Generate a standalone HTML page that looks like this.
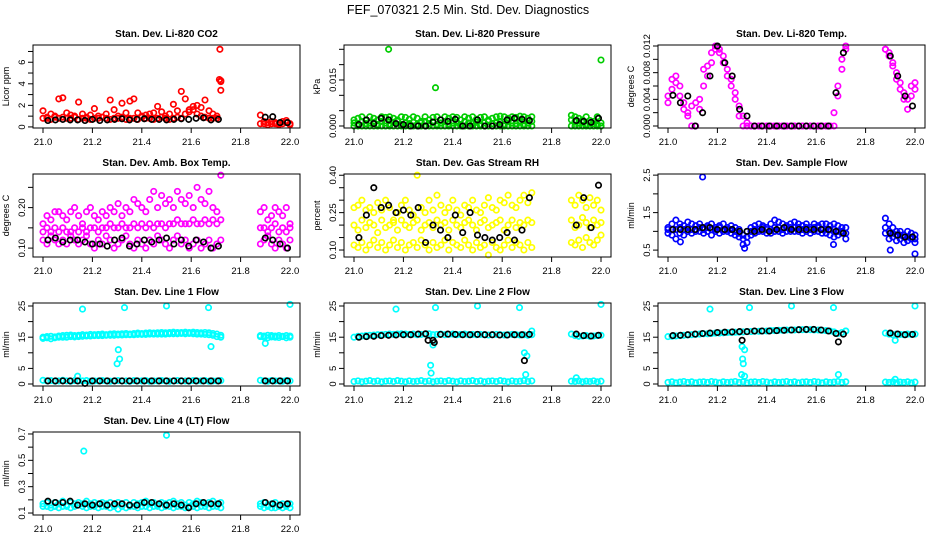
<!DOCTYPE html>
<html><head><meta charset="utf-8"><style>
body{margin:0;background:#fff;}
svg{display:block;font-family:"Liberation Sans",sans-serif;}
</style></head><body>
<svg id="chart" width="936" height="540" viewBox="0 0 936 540">
<text x="468" y="14" text-anchor="middle" font-size="12.5">FEF_070321  2.5 Min. Std. Dev. Diagnostics</text>
</svg>
<script>
const T = [21.00,21.016,21.032,21.048,21.064,21.08,21.096,21.112,21.128,21.144,21.16,21.176,21.192,21.208,21.224,21.24,21.256,21.272,21.288,21.304,21.32,21.336,21.352,21.368,21.384,21.40,21.416,21.432,21.448,21.464,21.48,21.496,21.512,21.528,21.544,21.56,21.576,21.592,21.608,21.624,21.64,21.656,21.672,21.688,21.704,21.72,21.88,21.895,21.91,21.925,21.94,21.955,21.97,21.985,22.0];
const TK = [21.02,21.05,21.08,21.11,21.14,21.17,21.20,21.23,21.26,21.29,21.32,21.35,21.38,21.41,21.44,21.47,21.50,21.53,21.56,21.59,21.62,21.65,21.68,21.71,21.90,21.93,21.96,21.99];
const xTicks = [21.0,21.2,21.4,21.6,21.8,22.0];
const xTickLabels = ["21.0","21.2","21.4","21.6","21.8","22.0"];

// CO2
const co2A = [1.5,0.9,1.2,1.0,2.6,2.7,1.3,1.1,1.0,2.3,1.2,0.8,1.1,1.7,1.0,0.9,1.2,2.5,1.6,1.0,2.2,1.3,2.4,2.6,1.3,1.0,1.1,1.2,1.3,1.9,1.4,1.0,1.2,2.1,1.5,3.3,2.6,1.6,1.9,2.0,1.8,2.5,1.5,1.2,1.0,4.3,1.1,0.5,0.4,0.5,0.4,0.3,0.5,0.6,0.3];
const co2B = [0.8,0.8,0.7,0.9,0.8,0.9,0.8,0.8,0.9,0.7,0.8,0.9,0.7,0.8,0.8,0.9,0.8,0.7,0.8,0.8,0.9,0.7,0.8,0.8,0.7,0.9,0.8,0.8,0.7,0.8,0.9,0.8,0.7,0.8,0.9,0.8,1.2,1.4,1.6,1.2,1.0,0.9,0.8,0.8,0.8,3.4,0.3,0.3,0.2,0.3,0.3,0.2,0.3,0.4,0.2];
const co2OutT = [21.716,21.714,21.72];
const co2OutV = [7.2,4.4,4.2];
const co2K = [0.6,0.65,0.7,0.65,0.65,0.6,0.7,0.6,0.65,0.7,0.75,0.65,0.7,0.75,0.7,0.7,0.65,0.7,0.75,0.7,0.8,0.85,0.65,0.7,0.9,0.95,0.4,0.4];

// Pressure
const prA = [0.002,0.0025,0.003,0.0018,0.003,0.0025,0.002,0.003,0.0028,0.003,0.0025,0.002,0.003,0.0028,0.0022,0.003,0.0025,0.0015,0.003,0.002,0.0028,0.003,0.002,0.003,0.0025,0.003,0.0028,0.002,0.003,0.0025,0.003,0.0022,0.0028,0.003,0.002,0.0025,0.003,0.0032,0.003,0.0025,0.003,0.0028,0.0032,0.003,0.0025,0.003,0.0035,0.003,0.0025,0.002,0.003,0.0018,0.0015,0.003,0.001];
const prB = [0.001,0.0005,0.0015,0.0008,0.001,0.0012,0.0005,0.0015,0.001,0.0007,0.0012,0.0015,0.0005,0.001,0.0008,0.0012,0.0005,0.001,0.0015,0.0008,0.0012,0.0005,0.001,0.0015,0.0007,0.001,0.0012,0.0005,0.0015,0.001,0.0008,0.0012,0.0005,0.001,0.0015,0.0008,0.001,0.0012,0.0005,0.0015,0.001,0.0008,0.0012,0.0005,0.001,0.0015,0.002,0.0015,0.001,0.0012,0.0005,0.001,0.0008,0.0005,0];
const prC = [0,0,0,0,0,0,0,0,0,0,0,0,0,0,0,0,0,0,0,0,0,0,0,0,0,0,0,0,0,0,0,0,0,0,0,0,0,0,0,0,0,0,0,0,0,0,0,0,0,0,0,0,0,0,0];
const prOutT = [21.14,21.33,22.0];
const prOutV = [0.025,0.0125,0.0215];
const prK = [0.0005,0.002,0.0008,0.0025,0.002,0.0008,0.0005,0,0,0,0.0013,0.002,0.0015,0.0022,0,0,0.002,0,0,0.0005,0.002,0.0025,0.0022,0.0018,0.0018,0.0015,0.0012,0.0025];

// Li-820 temp
const tmA = [0.0045,0.007,0.0075,0.006,0.0035,0.0015,0,0,0.004,0.0085,0.009,0.011,0.0115,0.011,0.0095,0.0075,0.006,0.004,0.0015,0,0,0,0,0,0,0,0,0,0,0,0,0,0,0,0,0,0,0,0,0,0,0,0.002,0.006,0.01,0.0115,0.0115,0.011,0.009,0.008,0.0065,0.005,0.004,0.006,0.0055];
const tmB = [0.0035,0.0055,0.0065,0.0045,0.0025,0.002,0.003,0.0035,0.0025,0.006,0.0075,0.0095,0.012,0.0115,0.0105,0.0085,0.007,0.005,0.003,0.0015,0.0005,0,0,0,0,0,0,0,0,0,0,0,0,0,0,0,0,0,0,0,0,0,0,0.0045,0.0085,0.012,0.0115,0.0105,0.0095,0.007,0.0055,0.004,0.0025,0.0045,0.0065];
const tmK = [0.0046,0.0035,0.0045,0,0.002,0.0075,0.012,0.0095,0.0075,0.0025,0.0015,0,0,0,0,0,0,0,0,0,0,0,0.005,0.011,0.0105,0.0075,0.0045,0.003];

// Amb box temp
const abA = [0.16,0.18,0.17,0.19,0.19,0.18,0.17,0.19,0.2,0.18,0.16,0.19,0.2,0.18,0.17,0.19,0.18,0.2,0.19,0.21,0.18,0.2,0.19,0.22,0.21,0.2,0.19,0.22,0.24,0.2,0.23,0.21,0.22,0.2,0.24,0.22,0.21,0.23,0.2,0.25,0.22,0.21,0.24,0.2,0.19,0.28,0.19,0.2,0.17,0.18,0.2,0.19,0.18,0.2,0.16];
const abB = [0.12,0.11,0.13,0.12,0.11,0.12,0.11,0.13,0.12,0.11,0.12,0.13,0.11,0.1,0.12,0.11,0.13,0.12,0.1,0.11,0.12,0.13,0.11,0.1,0.12,0.11,0.1,0.12,0.11,0.13,0.12,0.11,0.1,0.12,0.13,0.11,0.12,0.1,0.11,0.12,0.1,0.11,0.12,0.1,0.11,0.12,0.11,0.12,0.13,0.11,0.1,0.12,0.11,0.1,0.12];
const abC = [0.14,0.15,0.14,0.15,0.14,0.15,0.14,0.14,0.15,0.14,0.15,0.14,0.15,0.15,0.14,0.15,0.15,0.16,0.15,0.15,0.16,0.15,0.15,0.16,0.15,0.16,0.15,0.16,0.15,0.16,0.16,0.15,0.16,0.16,0.17,0.16,0.16,0.16,0.17,0.16,0.16,0.17,0.16,0.17,0.16,0.17,0.15,0.15,0.14,0.15,0.16,0.14,0.15,0.14,0.15];
const abK = [0.12,0.125,0.115,0.12,0.12,0.115,0.11,0.11,0.105,0.12,0.125,0.105,0.11,0.12,0.115,0.12,0.125,0.11,0.12,0.105,0.12,0.115,0.1,0.105,0.125,0.12,0.11,0.1];

// RH
const rhA = [0.27,0.28,0.3,0.26,0.27,0.25,0.29,0.26,0.3,0.27,0.22,0.25,0.28,0.3,0.26,0.24,0.4,0.27,0.25,0.3,0.26,0.32,0.28,0.25,0.27,0.3,0.26,0.24,0.28,0.27,0.3,0.26,0.25,0.28,0.31,0.27,0.26,0.3,0.29,0.32,0.28,0.27,0.3,0.32,0.29,0.33,0.3,0.28,0.32,0.3,0.27,0.31,0.28,0.3,0.26];
const rhB = [0.2,0.18,0.22,0.19,0.21,0.2,0.17,0.22,0.19,0.2,0.21,0.18,0.22,0.2,0.19,0.21,0.22,0.18,0.2,0.21,0.19,0.22,0.2,0.21,0.18,0.22,0.2,0.19,0.21,0.22,0.2,0.18,0.21,0.22,0.19,0.2,0.21,0.22,0.18,0.2,0.22,0.19,0.21,0.2,0.22,0.21,0.22,0.19,0.2,0.23,0.21,0.19,0.22,0.2,0.21];
const rhC = [0.12,0.11,0.13,0.1,0.12,0.14,0.11,0.13,0.1,0.12,0.14,0.11,0.13,0.1,0.12,0.13,0.11,0.14,0.12,0.1,0.13,0.11,0.12,0.14,0.1,0.13,0.12,0.11,0.14,0.12,0.1,0.13,0.11,0.12,0.08,0.13,0.11,0.1,0.12,0.14,0.11,0.13,0.12,0.1,0.13,0.11,0.13,0.12,0.14,0.11,0.15,0.13,0.12,0.14,0.16];
const rhK = [0.15,0.24,0.35,0.27,0.28,0.25,0.26,0.24,0.27,0.13,0.2,0.18,0.15,0.24,0.17,0.25,0.16,0.15,0.14,0.15,0.17,0.14,0.18,0.31,0.2,0.31,0.19,0.36];

// Sample flow
const sfA = [1.1,1.2,1.3,1.2,1.15,1.25,1.2,1.15,1.2,1.1,1.15,1.2,1.1,1.15,1.2,1.1,1.15,1.1,1.05,0.9,1.0,1.1,1.15,1.2,1.15,1.1,1.2,1.3,1.25,1.2,1.15,1.2,1.25,1.2,1.15,1.2,1.1,1.2,1.15,1.2,1.2,1.15,1.2,1.15,1.1,1.1,1.35,1.2,1.1,1.0,1.0,0.9,1.0,0.95,0.9];
const sfB = [0.95,0.9,0.8,0.95,0.9,1.0,0.95,1.0,1.0,0.95,1.0,0.9,1.0,0.95,1.0,1.0,0.95,0.9,0.85,0.65,0.7,0.9,0.95,1.0,1.0,0.95,0.95,1.0,1.0,0.95,1.0,1.0,1.0,1.0,0.95,1.0,0.95,1.0,1.0,0.95,0.95,0.9,0.85,0.9,0.95,0.8,0.95,0.8,0.85,0.75,0.8,0.7,0.75,0.8,0.7];
const sfC = [1.05,1.05,1.05,1.1,1.05,1.1,1.05,1.05,1.1,1.05,1.1,1.05,1.05,1.1,1.05,1.05,1.05,1.0,0.95,0.8,0.85,1.0,1.05,1.05,1.1,1.05,1.05,1.1,1.1,1.05,1.1,1.1,1.1,1.1,1.05,1.1,1.05,1.1,1.1,1.05,1.05,1.05,1.05,1.0,1.0,0.95,1.1,1.0,0.95,0.9,0.9,0.85,0.85,0.85,0.8];
const sfOutT = [21.14,22.0,21.9,21.05,21.31,21.67];
const sfOutV = [2.45,0.4,0.5,0.72,0.55,0.65];
const sfK = [1.05,1.05,1.05,1.05,1.1,1.1,1.05,1.05,1.05,1.0,1.0,1.0,1.05,1.0,1.05,1.1,1.05,1.05,1.05,1.05,1.05,1.05,1.0,0.95,0.95,0.9,0.85,0.85];

// Line 1
const l1A = [15,15.2,15.3,15.1,15.4,15.5,15.6,15.7,15.5,15.6,15.8,15.7,15.9,15.8,15.9,16,15.8,16,16.1,16,16.1,16.2,16,16.2,16.3,16.2,16.3,16.4,16.3,16.4,16.5,16.4,16.5,16.6,16.5,16.5,16.6,16.5,16.6,16.5,16.4,16.5,16.4,16.2,16.0,15.6,15.5,15.4,15.6,15.5,15.4,15.5,15.3,15.5,15.4];
const l1B = [14.6,14.8,14.5,14.8,15,15,15,15.2,15.1,15.2,15.3,15.4,15.4,15.5,15.5,15.5,15.6,15.6,15.6,15.7,15.7,15.8,15.8,15.8,15.9,15.9,15.9,16,16,16,16,16,16.1,16.1,16.1,16.2,16.1,16.2,16.1,16,16,15.9,15.8,15.6,15.2,15,15.2,15,14.8,15.1,15,14.9,15.2,14.8,15];
const l1C = [1.2,1.0,1.1,0.9,1.0,1.2,1.0,0.9,1.1,1.0,1.0,1.1,0.9,1.0,1.0,1.1,1.0,0.9,1.0,1.1,1.0,1.0,0.9,1.1,1.0,1.0,1.1,0.9,1.0,1.0,1.1,1.0,0.9,1.0,1.1,1.0,1.0,0.9,1.1,1.0,1.0,1.1,0.9,1.0,1.0,1.1,1.2,1.0,0.9,1.1,1.0,1.0,0.9,1.1,1.0];
const l1OutT = [21.16,21.33,21.5,21.67,22.0,21.3,21.31,21.305,21.68,21.9,21.14];
const l1OutV = [24,24.5,25,24.5,25.5,6.5,8,11,12,13,2.5];
const l1K = [1,1,1,1,1,0.2,1,1,1,1,1,1,1,1,1,1,1,1,1,1,1,1,1,1,1,1,1,1];

// Line 2
const l2A = [0.8,1.0,0.7,0.9,1.1,0.8,1.0,0.7,0.9,1.0,0.8,1.1,0.9,0.7,1.0,0.8,0.9,1.1,0.8,1.0,0.7,0.9,1.0,0.8,1.1,0.9,0.7,1.0,0.8,0.9,1.1,0.8,1.0,0.7,0.9,1.0,0.8,1.1,0.9,0.7,1.0,0.8,0.9,1.1,0.8,1.0,0.9,0.8,1.0,0.7,0.9,0.8,1.0,0.7,0.9];
const l2B = [15,15.3,15.4,15.5,15.6,15.7,15.8,15.8,15.9,16,15.9,16,16.1,16,15.9,16,15.8,15.9,16,16.1,15.8,15.9,16,15.8,15.9,16,15.8,15.9,16,15.8,15.9,15.8,15.9,15.8,15.7,15.8,15.9,15.8,15.7,15.8,15.9,15.8,15.7,15.8,15.6,15.8,16,15.5,15.3,15.4,15.5,15.3,15.4,15.5,15.6];
const l2OutT = [21.17,21.33,21.5,21.67,22.0,21.31,21.312,21.32,21.69,21.7,21.695,21.72,21.9];
const l2OutV = [24,24.5,25,24.5,25.5,6,3.5,12.5,10,9,3,17,2];
const l2K = [15,15.2,15.3,15.5,15.6,15.7,15.8,15.8,16,16.1,14,15.9,16,15.9,15.8,15.8,15.9,15.8,15.8,15.7,15.7,15.8,15.8,15.9,16,15.5,15.4,15.6];
const l2KOutT = [21.30,21.325,21.69];
const l2KOutV = [14,13.3,7.5];

// Line 3
const l3A = [0.5,0.7,0.4,0.6,0.8,0.5,0.7,0.4,0.6,0.7,0.5,0.8,0.6,0.4,0.7,0.5,0.6,0.8,0.5,0.7,0.4,0.6,0.7,0.5,0.8,0.6,0.4,0.7,0.5,0.6,0.8,0.5,0.7,0.4,0.6,0.7,0.5,0.8,0.6,0.4,0.7,0.5,0.6,0.8,0.5,0.7,0.6,0.5,0.7,0.4,0.6,0.5,0.7,0.4,0.6];
const l3B = [15.2,15.3,15.4,15.5,15.6,15.7,15.8,15.9,16,16.1,16.1,16.2,16.3,16.3,16.4,16.5,16.5,16.6,16.6,16.7,16.8,16.8,16.9,16.9,17,17,17.1,17.1,17.2,17.2,17.3,17.3,17.3,17.4,17.4,17.4,17.4,17.3,17.3,17.2,17.1,17,16.7,16.2,16.5,17,16.3,16,15.8,16,15.9,15.8,16,15.9,16];
const l3OutT = [21.17,21.33,21.5,21.67,22.0,21.30,21.31,21.302,21.305,21.298,21.31,21.69,21.92,21.72,21.92];
const l3OutV = [24,24.5,25,24.5,25,12,11,8,6.5,3,2.5,3,14,17,1.5];
const l3K = [15.5,15.6,15.8,16,16.2,16.3,16.5,16.6,16.7,16.8,16.8,17,17,17,17.1,17.2,17.3,17.4,17.5,17.5,17.3,17,16.2,16,16.3,16,15.8,15.9];
const l3KOutT = [21.30,21.69];
const l3KOutV = [14,13.5];

// Line 4
const l4A = [0.17,0.18,0.16,0.18,0.17,0.19,0.16,0.18,0.17,0.18,0.17,0.19,0.17,0.18,0.17,0.18,0.17,0.18,0.16,0.18,0.17,0.18,0.16,0.18,0.17,0.18,0.19,0.17,0.18,0.16,0.18,0.17,0.18,0.19,0.17,0.18,0.16,0.18,0.17,0.19,0.18,0.17,0.18,0.19,0.17,0.18,0.17,0.18,0.16,0.17,0.18,0.16,0.17,0.16,0.17];
const l4B = [0.15,0.15,0.14,0.15,0.14,0.15,0.15,0.14,0.15,0.16,0.15,0.14,0.15,0.15,0.14,0.15,0.15,0.14,0.15,0.13,0.15,0.14,0.15,0.15,0.14,0.15,0.15,0.14,0.15,0.15,0.14,0.15,0.15,0.14,0.15,0.15,0.14,0.15,0.15,0.14,0.15,0.15,0.14,0.15,0.15,0.14,0.15,0.14,0.15,0.14,0.14,0.15,0.14,0.15,0.14];
const l4OutT = [21.165,21.5];
const l4OutV = [0.57,0.69];
const l4K = [0.19,0.18,0.18,0.19,0.16,0.17,0.16,0.17,0.16,0.17,0.17,0.16,0.16,0.18,0.18,0.17,0.16,0.17,0.16,0.14,0.17,0.18,0.17,0.17,0.18,0.17,0.16,0.17];

const svg = document.getElementById('chart');
const NS = 'http://www.w3.org/2000/svg';
function mk(tag, attrs, parent) {
  const e = document.createElementNS(NS, tag);
  for (const k in attrs) e.setAttribute(k, attrs[k]);
  (parent || svg).appendChild(e);
  return e;
}
const colL = [33, 344, 658];
const rowB = [128, 257, 386, 515];
const BW = 267, BH = 83;

const panels = [
 {name:'co2', title:'Stan. Dev. Li-820 CO2', ylab:'Licor ppm', c:0, r:0, ymin:-0.1, ymax:7.6, ticks:[0,1,2,3,4,5,6,7], labels:[0,2,4,6], lfmt:v=>String(v), col:'#ff0000',
  series:[[T,co2A],[T,co2B],[co2OutT,co2OutV]], black:[[TK,co2K]]},
 {name:'pressure', title:'Stan. Dev. Li-820 Pressure', ylab:'kPa', c:1, r:0, ymin:-0.00065, ymax:0.0264, ticks:[0,0.005,0.01,0.015,0.02,0.025], labels:[0,0.015], lfmt:v=>v.toFixed(3), col:'#00cd00',
  series:[[T,prC],[T,prB],[T,prA],[prOutT,prOutV]], black:[[TK,prK]]},
 {name:'li820-temp', title:'Stan. Dev. Li-820 Temp.', ylab:'degrees C', c:2, r:0, ymin:-0.0003, ymax:0.01215, ticks:[0,0.002,0.004,0.006,0.008,0.01,0.012], labels:[0,0.004,0.008,0.012], lfmt:v=>v.toFixed(3), col:'#ff00ff',
  series:[[T,tmA],[T,tmB]], black:[[TK,tmK]]},
 {name:'amb-box-temp', title:'Stan. Dev. Amb. Box Temp.', ylab:'degrees C', c:0, r:1, ymin:0.078, ymax:0.283, ticks:[0.1,0.15,0.2,0.25], labels:[0.1,0.2], lfmt:v=>v.toFixed(2), col:'#ff00ff',
  series:[[T,abB],[T,abC],[T,abA]], black:[[TK,abK]]},
 {name:'gas-stream-rh', title:'Stan. Dev. Gas Stream RH', ylab:'percent', c:1, r:1, ymin:0.072, ymax:0.405, ticks:[0.1,0.15,0.2,0.25,0.3,0.35,0.4], labels:[0.1,0.25,0.4], lfmt:v=>v.toFixed(2), col:'#ffff00',
  series:[[T,rhC],[T,rhB],[T,rhA]], black:[[TK,rhK]]},
 {name:'sample-flow', title:'Stan. Dev. Sample Flow', ylab:'ml/min', c:2, r:1, ymin:0.316, ymax:2.53, ticks:[0.5,1,1.5,2,2.5], labels:[0.5,1.5,2.5], lfmt:v=>v.toFixed(1), col:'#0000ff',
  series:[[T,sfB],[T,sfA],[T,sfC],[sfOutT,sfOutV]], black:[[TK,sfK]]},
 {name:'line1-flow', title:'Stan. Dev. Line 1 Flow', ylab:'ml/min', c:0, r:2, ymin:-0.64, ymax:25.96, ticks:[0,5,10,15,20,25], labels:[0,5,15,25], lfmt:v=>String(v), col:'#00ffff',
  series:[[T,l1B],[T,l1A],[T,l1C],[l1OutT,l1OutV]], black:[[TK,l1K]]},
 {name:'line2-flow', title:'Stan. Dev. Line 2 Flow', ylab:'ml/min', c:1, r:2, ymin:-0.64, ymax:25.96, ticks:[0,5,10,15,20,25], labels:[0,5,15,25], lfmt:v=>String(v), col:'#00ffff',
  series:[[T,l2A],[T,l2B],[l2OutT,l2OutV]], black:[[TK,l2K],[l2KOutT,l2KOutV]]},
 {name:'line3-flow', title:'Stan. Dev. Line 3 Flow', ylab:'ml/min', c:2, r:2, ymin:-0.64, ymax:25.96, ticks:[0,5,10,15,20,25], labels:[0,5,15,25], lfmt:v=>String(v), col:'#00ffff',
  series:[[T,l3A],[T,l3B],[l3OutT,l3OutV]], black:[[TK,l3K],[l3KOutT,l3KOutV]]},
 {name:'line4-flow', title:'Stan. Dev. Line 4 (LT) Flow', ylab:'ml/min', c:0, r:3, ymin:0.085, ymax:0.715, ticks:[0.1,0.2,0.3,0.4,0.5,0.6,0.7], labels:[0.1,0.3,0.5,0.7], lfmt:v=>v.toFixed(1), col:'#00ffff',
  series:[[T,l4A],[T,l4B],[l4OutT,l4OutV]], black:[[TK,l4K]]}
];

panels.forEach(p => {
  const L = colL[p.c], B = rowB[p.r], Tp = B - BH;
  const xs = v => L + 10 + (v - 21) * 247;
  const ys = v => B - (v - p.ymin) / (p.ymax - p.ymin) * BH;
  const g = mk('g', {});
  
  
  const t = mk('text', {x: L + BW/2, y: Tp - 8, 'text-anchor':'middle', 'font-size':'10', 'font-weight':'bold'}, g);
  t.textContent = p.title;
  
  
  const yl = mk('text', {x: 0, y: 0, 'text-anchor':'middle', 'font-size':'9', transform:`translate(${L-24},${Tp+BH/2}) rotate(-90)`}, g);
  yl.textContent = p.ylab;
  
  
  const pts = mk('g', {fill:'none', 'stroke-width':'1.7'}, g);
  
  
  const draw = (arrT, arrV, color) => {
    for (let i = 0; i < arrT.length; i++) {
      const c = mk('circle', {cx: xs(arrT[i]).toFixed(1), cy: ys(arrV[i]).toFixed(1), r: 2.7, stroke: color}, pts);
      
      
    }
  };
  p.series.forEach(s => draw(s[0], s[1], p.col));
  p.black.forEach(s => draw(s[0], s[1], '#000'));
  const box = mk('rect', {x: L, y: Tp, width: BW, height: BH, fill:'none', stroke:'#000', 'stroke-width':'1'}, g);
  
  
  const xa = mk('g', {stroke:'#000', 'stroke-width':'1'}, g);
  
  
  mk('line', {x1: xs(21), x2: xs(22), y1: B, y2: B}, xa);
  xTicks.forEach((v, i) => {
    mk('line', {x1: xs(v), x2: xs(v), y1: B, y2: B + 5}, xa);
    const tl = mk('text', {x: xs(v), y: B + 17, 'text-anchor':'middle', 'font-size':'9.5', stroke:'none', fill:'#000'}, g);
    tl.textContent = xTickLabels[i];
    
    
  });
  const ya = mk('g', {stroke:'#000', 'stroke-width':'1'}, g);
  
  
  p.ticks.forEach(v => {
    mk('line', {x1: L - 5, x2: L, y1: ys(v), y2: ys(v)}, ya);
  });
  p.labels.forEach(v => {
    const tl = mk('text', {x: 0, y: 0, 'text-anchor':'middle', 'font-size':'9.5', transform:`translate(${L-8},${ys(v)}) rotate(-90)`}, g);
    tl.textContent = p.lfmt(v);
    
    
  });
});
</script>
</body></html>
